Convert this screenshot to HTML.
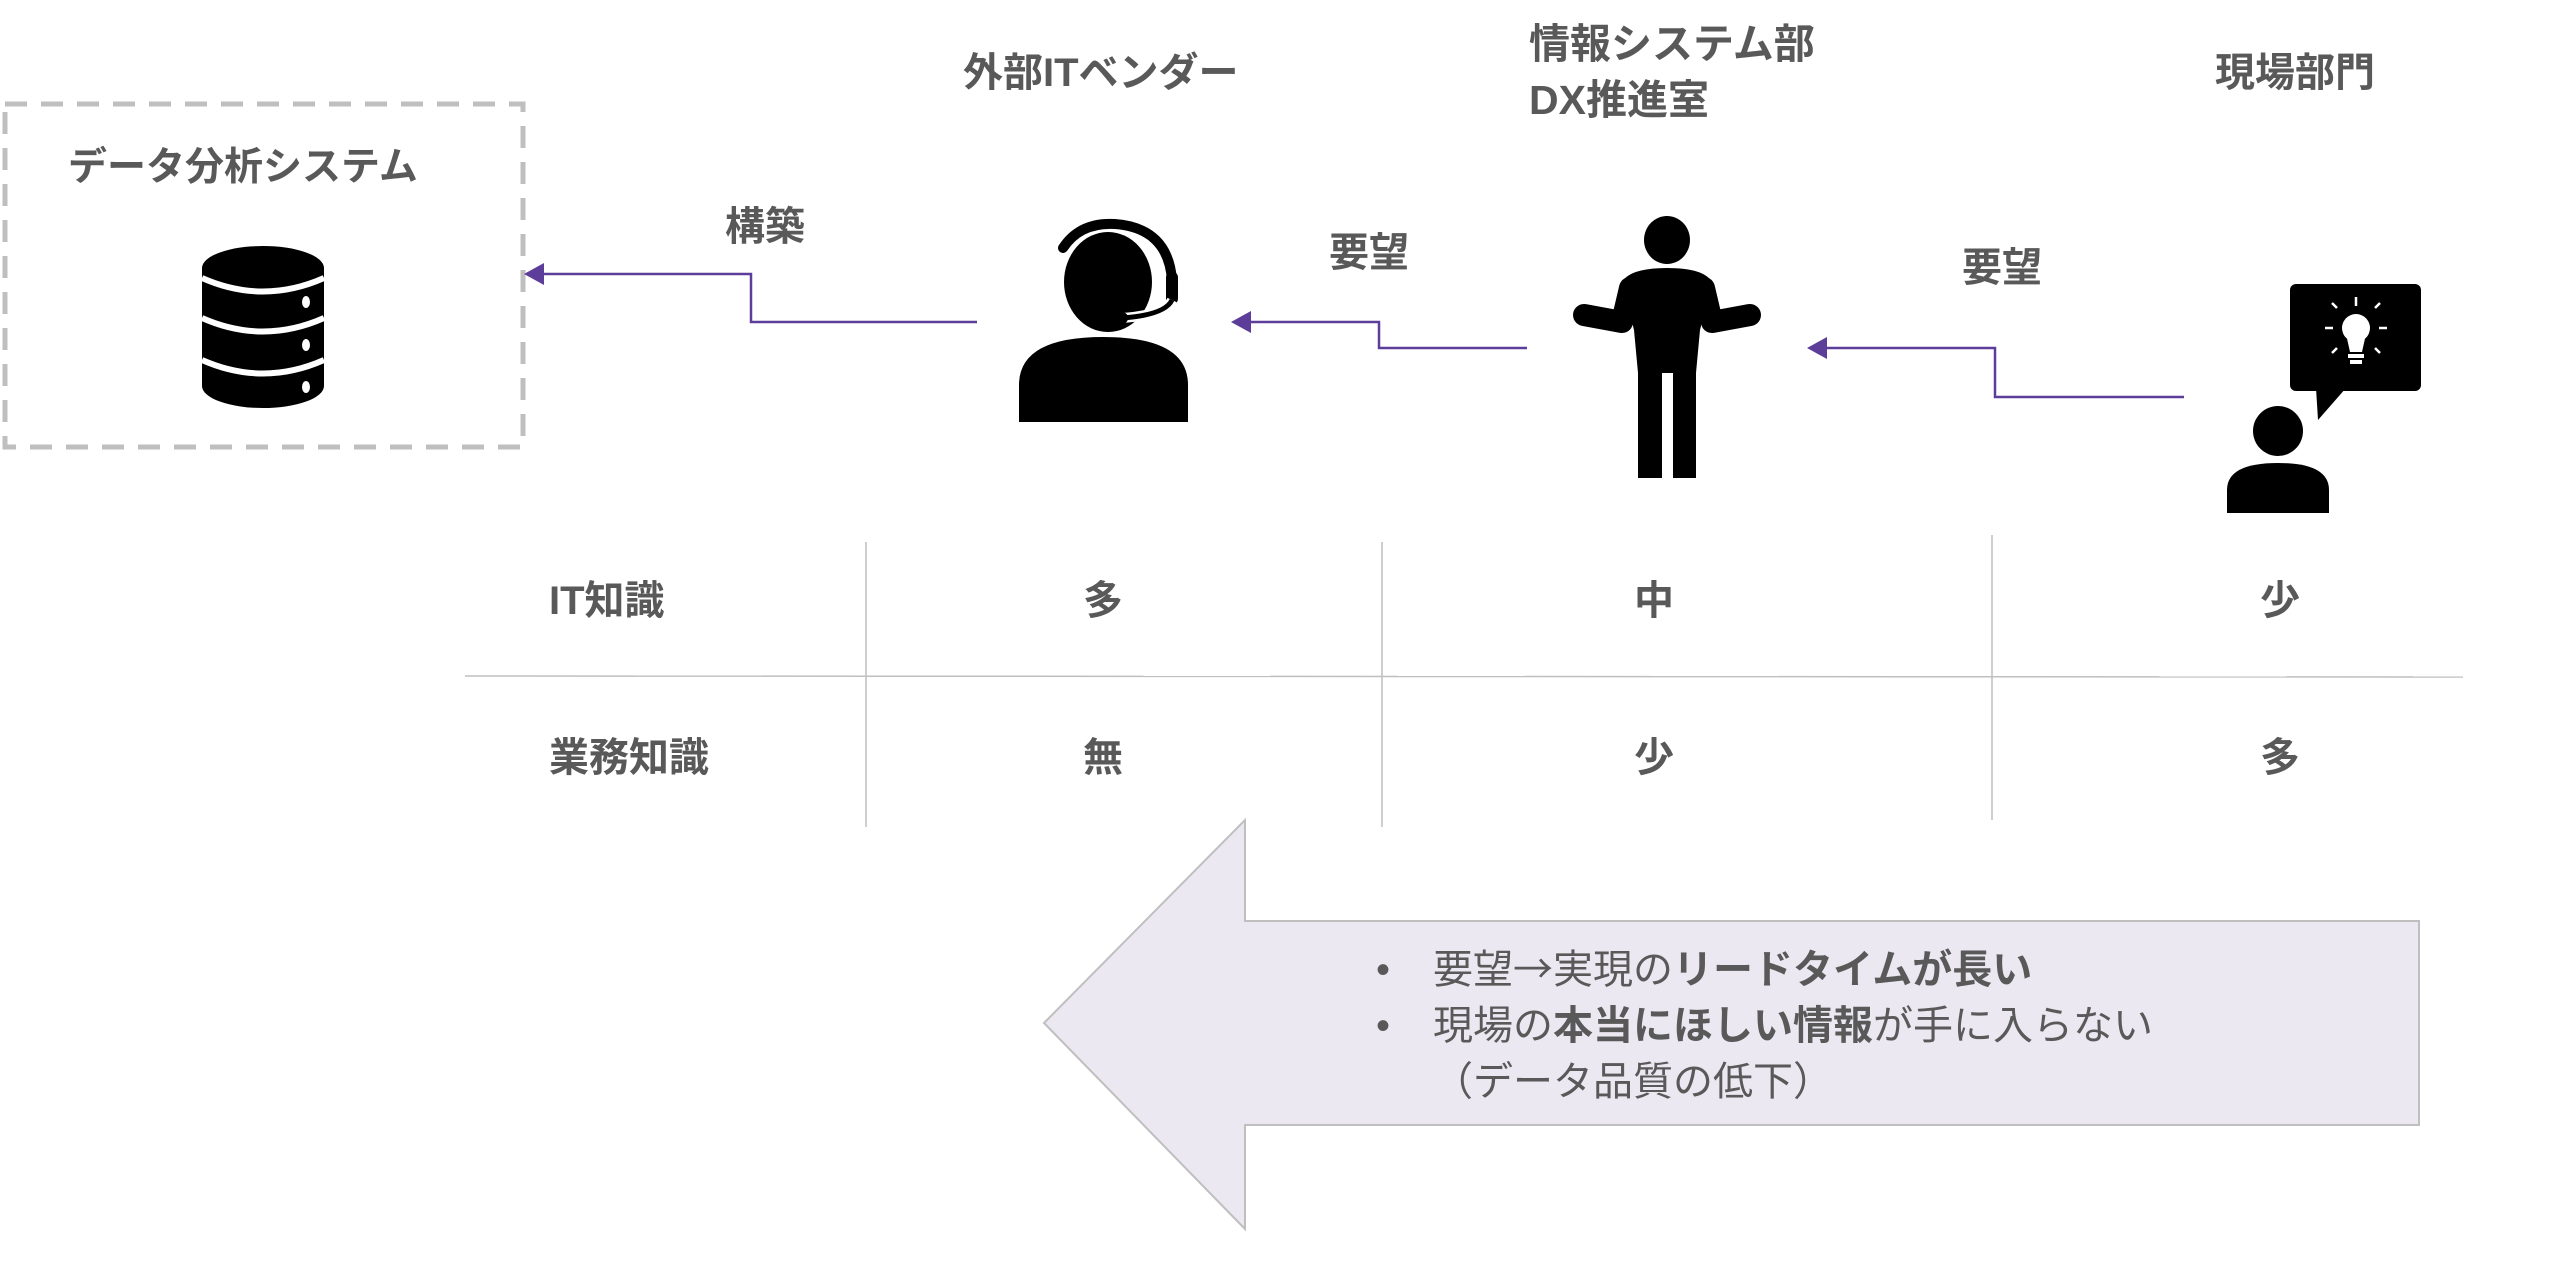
<!DOCTYPE html>
<html><head><meta charset="utf-8"><style>
html,body{margin:0;padding:0;background:#fff;}
svg{display:block}
text{font-family:"Liberation Sans","Noto Sans CJK JP",sans-serif;fill:#595959;}
.b{font-weight:bold}
.cjk{font-family:"Noto Sans CJK JP",sans-serif}
</style></head><body>
<svg width="2560" height="1279" viewBox="0 0 2560 1279" xmlns="http://www.w3.org/2000/svg">
<rect x="5" y="104" width="518" height="343" fill="none" stroke="#bfbfbf" stroke-width="5" stroke-dasharray="22 14"/>
<text x="68" y="180" font-size="39" class="b">データ分析システム</text>
<g>
<rect x="202" y="268" width="122" height="118" fill="#000"/>
<ellipse cx="263" cy="268" rx="61" ry="22" fill="#000"/>
<ellipse cx="263" cy="386" rx="61" ry="22" fill="#000"/>
<path d="M202,278 Q263,305 324,278" fill="none" stroke="#fff" stroke-width="6"/>
<path d="M202,318 Q263,345 324,318" fill="none" stroke="#fff" stroke-width="6"/>
<path d="M202,360 Q263,387 324,360" fill="none" stroke="#fff" stroke-width="6"/>
<ellipse cx="306" cy="302" rx="4" ry="6" fill="#fff"/>
<ellipse cx="306" cy="345" rx="4" ry="6" fill="#fff"/>
<ellipse cx="306" cy="387" rx="4" ry="6" fill="#fff"/>
</g>
<text x="725" y="240" font-size="40" class="b">構築</text>
<text x="963" y="86" font-size="40" class="b">外部ITベンダー</text>
<text x="1529" y="58" font-size="41" class="b">情報システム部</text>
<text x="1529" y="114" font-size="41" class="b">DX推進室</text>
<text x="2215" y="86" font-size="40" class="b">現場部門</text>
<text x="1329" y="266" font-size="40" class="b">要望</text>
<text x="1962" y="281" font-size="40" class="b">要望</text>
<g fill="none" stroke="#5c3d99" stroke-width="2.5">
<polyline points="540,274 751,274 751,322 977,322"/>
<polyline points="1247,322 1379,322 1379,348 1527,348"/>
<polyline points="1823,348 1995,348 1995,397 2184,397"/>
</g>
<g fill="#5c3d99">
<polygon points="524,274 544,263 544,285"/>
<polygon points="1231,322 1251,311 1251,333"/>
<polygon points="1807,348 1827,337 1827,359"/>
</g>
<g>
<ellipse cx="1108" cy="282" rx="44" ry="50" fill="#000"/>
<path d="M1063,248 Q1080,222 1115,224 Q1168,228 1172,280" fill="none" stroke="#000" stroke-width="10" stroke-linecap="round"/>
<rect x="1166" y="272" width="12" height="32" rx="5" fill="#000"/>
<path d="M1172,300 Q1165,315 1122,318" fill="none" stroke="#fff" stroke-width="10"/>
<path d="M1172,300 Q1165,315 1122,318" fill="none" stroke="#000" stroke-width="5"/>
<circle cx="1122" cy="318" r="6" fill="#000"/>
<path d="M1019,422 L1019,385 Q1019,337 1103,337 Q1188,337 1188,385 L1188,422 Z" fill="#000"/>
</g>
<g fill="#000">
<ellipse cx="1667" cy="240" rx="23" ry="24"/>
<path d="M1622,282 Q1630,268 1667,268 Q1704,268 1712,282 L1700,330 L1696,373 L1696,478 L1673,478 L1673,373 L1662,373 L1662,478 L1638,478 L1638,373 L1634,330 Z"/>
<polyline points="1630,288 1622,322 1584,315" fill="none" stroke="#000" stroke-width="22" stroke-linecap="round" stroke-linejoin="round"/>
<polyline points="1704,288 1712,322 1750,315" fill="none" stroke="#000" stroke-width="22" stroke-linecap="round" stroke-linejoin="round"/>
</g>
<g>
<rect x="2290" y="284" width="131" height="107" rx="6" fill="#000"/>
<polygon points="2316,388 2346,388 2318,420" fill="#000"/>
<circle cx="2356" cy="328" r="14" fill="#fff"/>
<path d="M2346,334 L2366,334 L2362,352 L2350,352 Z" fill="#fff"/>
<rect x="2348" y="354" width="16" height="4" fill="#fff"/>
<rect x="2350" y="360" width="12" height="4" fill="#fff"/>
<g stroke="#fff" stroke-width="2.5">
<line x1="2356" y1="297" x2="2356" y2="306"/>
<line x1="2333" y1="328" x2="2325" y2="328"/>
<line x1="2379" y1="328" x2="2387" y2="328"/>
<line x1="2337" y1="308" x2="2332" y2="303"/>
<line x1="2375" y1="308" x2="2380" y2="303"/>
<line x1="2337" y1="348" x2="2332" y2="353"/>
<line x1="2375" y1="348" x2="2380" y2="353"/>
</g>
<ellipse cx="2278" cy="431" rx="25" ry="25" fill="#000"/>
<path d="M2227,513 L2227,490 Q2227,463 2278,463 Q2329,463 2329,490 L2329,513 Z" fill="#000"/>
</g>
<g stroke="#bfbfbf" stroke-width="1.5">
<line x1="866" y1="542" x2="866" y2="827"/>
<line x1="1382" y1="542" x2="1382" y2="827"/>
<line x1="1992" y1="535" x2="1992" y2="820"/>
<line x1="465" y1="676" x2="2463" y2="677"/>
</g>
<g font-size="40" class="b">
<text x="549" y="614">IT知識</text>
<text x="549" y="771">業務知識</text>
</g>
<g font-size="40" class="b" text-anchor="middle">
<text x="1103" y="614">多</text>
<text x="1654" y="614">中</text>
<text x="2280" y="614">少</text>
<text x="1103" y="771">無</text>
<text x="1654" y="771">少</text>
<text x="2280" y="771">多</text>
</g>
<polygon points="1044,1023 1245,820 1245,921 2419,921 2419,1125 1245,1125 1245,1229" fill="#ebe8f1" stroke="#bfbfbf" stroke-width="2"/>
<g font-size="40">
<text x="1376" y="983">•</text>
<text x="1433" y="983">要望<tspan class="cjk">→</tspan>実現の<tspan class="b">リードタイムが長い</tspan></text>
<text x="1376" y="1039">•</text>
<text x="1433" y="1039">現場の<tspan class="b">本当にほしい情報</tspan>が手に入らない</text>
<text x="1433" y="1095">（データ品質の低下）</text>
</g>
</svg>
</body></html>
